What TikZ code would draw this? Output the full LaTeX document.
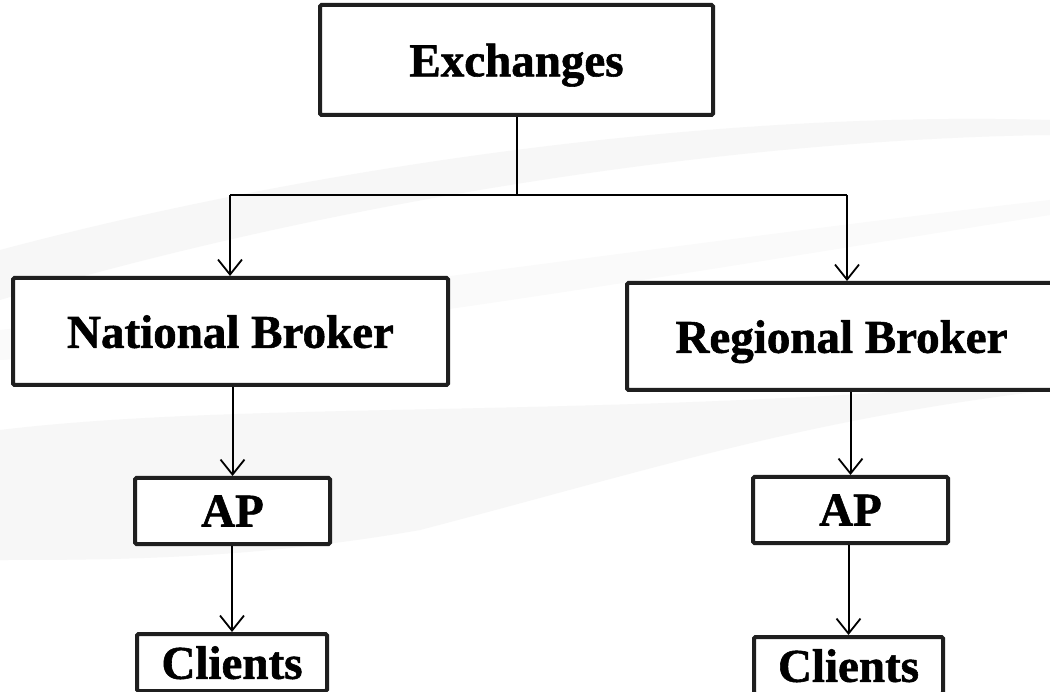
\documentclass[tikz,border=0pt]{standalone}
\usepackage{fontspec}
\setmainfont{Liberation Serif}[BoldFeatures={FakeBold=1.2}]
\usetikzlibrary{arrows.meta}
\tikzset{
  box/.style={draw=black!88, line width=4pt, rounded corners=1.5pt, fill=white, inner sep=0pt,
    text depth=0pt, font=\fontsize{47}{50}\selectfont\bfseries, text=black},
  link/.style={draw=black, line width=2pt},
  arr/.style={link, -{Straight Barb[length=15pt,width=24pt,line width=1.8pt]}},
  swoosh/.style={fill=black!3, draw=none}
}
\begin{document}
\begin{tikzpicture}[x=1pt,y=-1pt]
\useasboundingbox (0,0) rectangle (1050,692);
\fill[white] (0,0) rectangle (1050,692);
% faint background swooshes
\fill[swoosh] (0,250) .. controls (300,170) and (700,110) .. (1050,120)
  -- (1050,135) .. controls (700,140) and (300,210) .. (0,300) -- cycle;
\fill[black!2] (0,330) .. controls (300,300) and (700,240) .. (1050,200)
  -- (1050,215) .. controls (700,270) and (300,340) .. (0,360) -- cycle;
\fill[swoosh] (0,430) .. controls (250,400) and (600,420) .. (1050,380)
  -- (1050,390) .. controls (800,420) and (650,470) .. (420,530)
  .. controls (250,560) and (100,560) .. (0,560) -- cycle;
% boxes
\node[box, minimum width=393pt, minimum height=110pt] (ex) at (516.5,60) {Exchanges};
\node[box, minimum width=435pt, minimum height=107pt] (nb) at (230.5,331.5) {National Broker};
\node[box, minimum width=429pt, minimum height=107pt] (rb) at (841.5,336.5) {Regional Broker};
\node[box, minimum width=195pt, minimum height=66pt] (apl) at (232.5,511) {AP};
\node[box, minimum width=195pt, minimum height=66pt] (apr) at (850.5,510) {AP};
\node[box, minimum width=190pt, minimum height=57pt] (cll) at (232,662.5) {Clients};
\node[box, minimum width=189pt, minimum height=57pt] (clr) at (848.5,665.5) {Clients};
% connectors
\coordinate (jl) at (230,195);
\coordinate (jr) at (847,195);
\draw[link] (ex.south) -- (ex.south |- jl);
\draw[link] (jl) -- (jr);
\draw[arr] (jl) -- (jl |- nb.north);
\draw[arr] (jr) -- (jr |- rb.north);
\draw[arr] (nb.south -| apl) -- (apl.north);
\draw[arr] (apl.south -| cll) -- (cll.north);
\draw[arr] (rb.south -| apr) -- (apr.north);
\draw[arr] (apr.south -| clr) -- (clr.north);
\end{tikzpicture}
\end{document}
